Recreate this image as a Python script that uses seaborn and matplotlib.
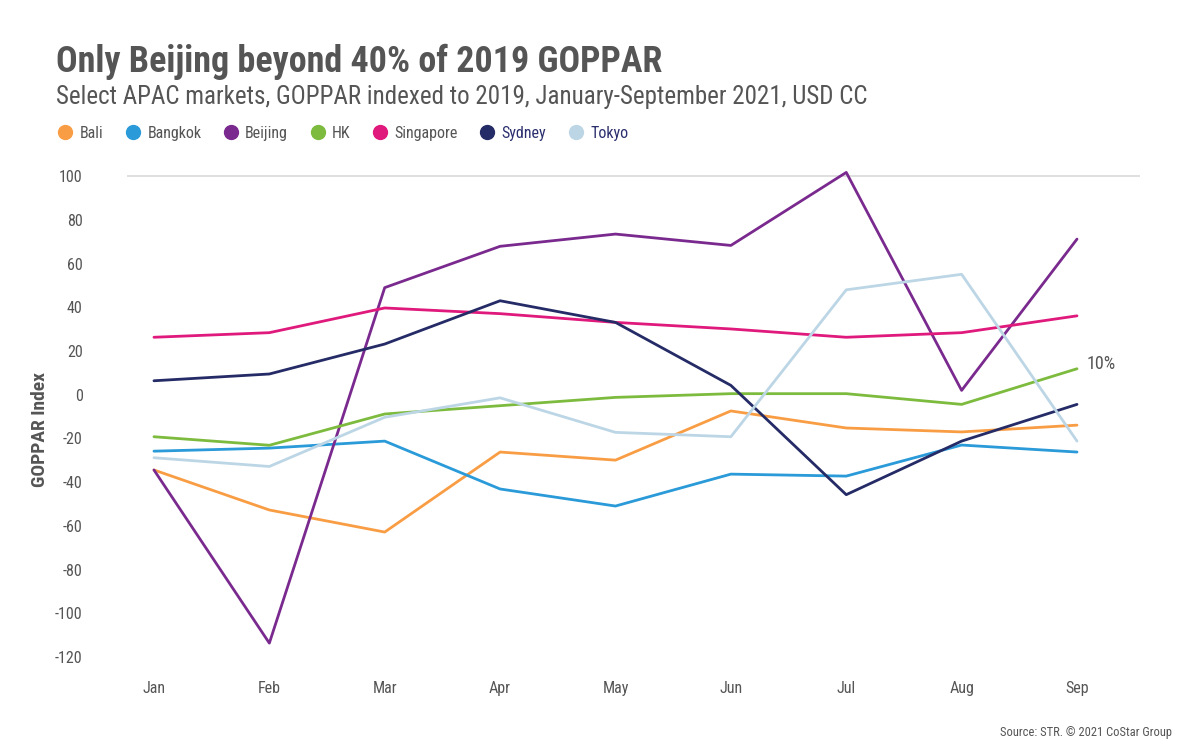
import pandas as pd
import matplotlib.pyplot as plt
import seaborn as sns
from matplotlib.lines import Line2D

# GOPPAR indexed to 2019
months = ['Jan', 'Feb', 'Mar', 'Apr', 'May', 'Jun', 'Jul', 'Aug', 'Sep']
bali = [-34.4, -52.7, -62.8, -26.2, -29.9, -7.4, -15.2, -17.0, -13.9]
bangkok = [-25.8, -24.4, -21.2, -43.1, -50.9, -36.3, -37.2, -23.0, -26.2]
beijing = [-34.4, -113.6, 49.0, 67.9, 73.5, 68.3, 101.7, 2.0, 71.2]
hk = [-19.2, -23.1, -8.8, -5.0, -1.2, 0.5, 0.5, -4.4, 11.9]
singapore = [26.3, 28.4, 39.7, 37.1, 33.1, 30.1, 26.3, 28.4, 36.1]
sydney = [6.4, 9.5, 23.2, 43.0, 33.1, 4.3, -45.7, -21.2, -4.4]
tokyo = [-28.8, -32.8, -10.3, -1.4, -17.2, -19.2, 48.0, 55.1, -21.2]

markets = ['Bali', 'Bangkok', 'Beijing', 'HK', 'Singapore', 'Sydney', 'Tokyo']
series = [bali, bangkok, beijing, hk, singapore, sydney, tokyo]
colors = ['#F99D45', '#2A9AD8', '#7A2A8E', '#7DBB3E', '#E0197C', '#252B66', '#BCD6E6']
palette = dict(zip(markets, colors))

rows = []
for name, vals in zip(markets, series):
    for i, v in enumerate(vals):
        rows.append({'market': name, 'pos': i, 'month': months[i], 'goppar': v})
df = pd.DataFrame(rows)

sns.set_style('white')
plt.rcParams['font.family'] = ['Roboto Condensed', 'Roboto', 'DejaVu Sans']
plt.rcParams['axes.unicode_minus'] = False
gris = '#555555'

fig = plt.figure(figsize=(12, 7.53), dpi=100)
ax = fig.add_axes([0.1058, 0.1102, 0.8442, 0.6707])

sns.lineplot(data=df, x='pos', y='goppar', hue='market', hue_order=markets,
             palette=palette, linewidth=2, legend=False, ax=ax)

ax.set_xlim(-0.234, 8.546)
ax.set_ylim(-125.9, 105.1)
ax.axhline(100, color='#d9d9d9', linewidth=1.2, zorder=0)
ax.set_xticks(range(len(months)))
ax.set_xticklabels(months)
ax.set_yticks(range(-120, 101, 20))
ax.tick_params(axis='y', length=0, pad=32, labelsize=11.5, labelcolor=gris)
ax.tick_params(axis='x', length=0, pad=8, labelsize=11.5, labelcolor=gris)
ax.set_xlabel('')
ax.set_ylabel('')
sns.despine(ax=ax, left=True, bottom=True, top=True, right=True)

# etiqueta del ultimo valor de HK
ax.annotate('10%', xy=(8, hk[-1]), xytext=(7, 0), textcoords='offset points',
            fontsize=13, color=gris, va='baseline', ha='left')

fig.text(0.033, 0.429, 'GOPPAR Index', rotation=90, ha='center', va='center',
         fontsize=14, fontweight='bold', color=gris)

fig.text(0.047, 0.905, 'Only Beijing beyond 40% of 2019 GOPPAR',
         fontsize=25.9, fontweight='bold', color=gris, va='baseline')
fig.text(0.047, 0.862, 'Select APAC markets, GOPPAR indexed to 2019, January-September 2021, USD CC',
         fontsize=18, color=gris, va='baseline')

handles = [Line2D([], [], marker='o', linestyle='', markersize=10,
                  markerfacecolor=c, markeredgecolor=c) for c in colors]
leg = fig.legend(handles, markets, loc='center left', bbox_to_anchor=(0.0425, 0.823),
                 ncol=7, frameon=False, fontsize=11.5, handletextpad=0.4,
                 columnspacing=1.35, handlelength=1.0, borderaxespad=0)
for txt, name in zip(leg.get_texts(), markets):
    txt.set_color('#2b2f6e' if name in ('Sydney', 'Tokyo') else gris)

fig.text(0.977, 0.027, 'Source: STR. \u00a9 2021 CoStar Group', fontsize=9,
         color=gris, ha='right', va='center')

plt.savefig('out.png', dpi=100, facecolor='white')
plt.close()
